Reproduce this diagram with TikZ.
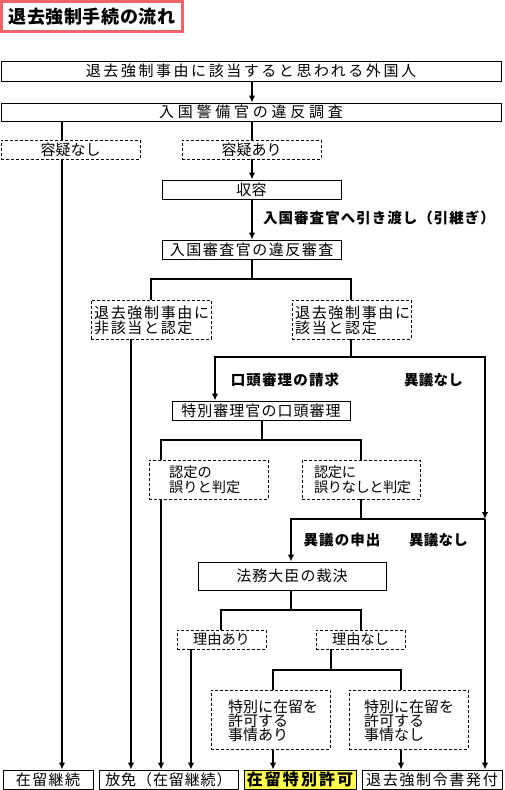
\documentclass[tikz,border=0pt]{standalone}
\usepackage{fontspec}
\setmainfont{Noto Sans CJK JP}
\usetikzlibrary{arrows.meta}
\definecolor{titlered}{RGB}{240,100,105}
\definecolor{hlyellow}{RGB}{255,255,80}
\begin{document}
\begin{tikzpicture}[x=1pt,y=-1pt,
  every node/.style={inner sep=0pt},
  ls/.style={font=\fontsize{15}{15}\selectfont\addfontfeature{LetterSpace=#1}},
  lss/.style={font=\fontsize{14.2}{15}\selectfont\addfontfeature{LetterSpace=#1}},
  lsb/.style={font=\fontsize{14.5}{15}\selectfont\bfseries\addfontfeature{LetterSpace=#1}},
  sbox/.style={draw, line width=0.9pt, rectangle},
  dbox/.style={draw, line width=0.9pt, dash pattern=on 3pt off 2pt, rectangle},
  conn/.style={line width=1.8pt},
  arr/.style={conn, -{Latex[length=7pt,width=6.5pt]}},
]
\useasboundingbox (0,0) rectangle (504,790);
\fill[white] (0,0) rectangle (504,790);

% title
\node[draw=titlered, line width=3pt, minimum width=181pt, minimum height=30pt,
      font=\fontsize{18}{20}\selectfont\bfseries\addfontfeature{LetterSpace=3}] (title) at (92,16.5) {退去強制手続の流れ};

% boxes
\node[sbox, minimum width=500pt, minimum height=20pt, ls=17] (b1) at (251,71) {退去強制事由に該当すると思われる外国人};
\node[sbox, minimum width=500pt, minimum height=18pt, ls=25] (b2) at (251,112) {入国警備官の違反調査};
\node[dbox, minimum width=139pt, minimum height=19pt, ls=0] (d1) at (70.5,149.5) {容疑なし};
\node[dbox, minimum width=139pt, minimum height=19pt, ls=0] (d2) at (251.5,149.5) {容疑あり};
\node[sbox, minimum width=179pt, minimum height=19pt, ls=3] (shuyo) at (251.5,189.5) {収容};
\node[sbox, minimum width=179pt, minimum height=19pt, ls=10] (shinsa) at (251.5,249.5) {入国審査官の違反審査};

\node[dbox, minimum width=120pt, minimum height=39pt] (d3) at (151,319.5) {};
\node[anchor=west, align=left, ls=11] (d3t) at (94,320.5) {退去強制事由に\\非該当と認定};
\node[dbox, minimum width=119pt, minimum height=39pt] (d4) at (351.5,319.5) {};
\node[anchor=west, align=left, ls=11] (d4t) at (295,320.5) {退去強制事由に\\該当と認定};

\node[sbox, minimum width=178pt, minimum height=19pt, ls=7] (kotou) at (261,410.5) {特別審理官の口頭審理};

\node[dbox, minimum width=119pt, minimum height=39pt] (d5) at (208.5,479.5) {};
\node[anchor=west, align=left, lss=0] (d5t) at (169,480) {認定の\\誤りと判定};
\node[dbox, minimum width=118pt, minimum height=39pt] (d6) at (361,479.5) {};
\node[anchor=west, align=left, lss=-3] (d6t) at (314,480) {認定に\\誤りなしと判定};

\node[sbox, minimum width=188pt, minimum height=28pt, ls=7] (houmu) at (292,576) {法務大臣の裁決};

\node[dbox, minimum width=89pt, minimum height=19pt, lss=0] (d7) at (221.5,639.5) {理由あり};
\node[dbox, minimum width=89pt, minimum height=19pt, lss=0] (d8) at (360.5,639.5) {理由なし};

\node[dbox, minimum width=119pt, minimum height=59pt] (d9) at (270.5,719.5) {};
\node[anchor=west, align=left, font=\fontsize{15}{14}\selectfont] (d9t) at (228,721) {特別に在留を\\許可する\\事情あり};
\node[dbox, minimum width=119pt, minimum height=59pt] (d10) at (408.5,719.5) {};
\node[anchor=west, align=left, font=\fontsize{15}{14}\selectfont] (d10t) at (364,721) {特別に在留を\\許可する\\事情なし};

% final boxes
\node[sbox, minimum width=90pt, minimum height=19pt, ls=9] (f1) at (48,779.5) {在留継続};
\node[sbox, minimum width=139pt, minimum height=19pt, ls=6] (f2) at (168.5,779.5) {放免（在留継続）};
\node[sbox, fill=hlyellow, minimum width=112pt, minimum height=19pt,
      font=\fontsize{16}{16}\selectfont\bfseries\addfontfeature{LetterSpace=13}] (f3) at (300,779.5) {在留特別許可};
\node[sbox, minimum width=140pt, minimum height=19pt, ls=11] (f4) at (432,779.5) {退去強制令書発付};

% labels
\node[anchor=west, lsb=7] (l1) at (263,218) {入国審査官へ引き渡し（引継ぎ）};
\node[lsb=8] (l2) at (285,380) {口頭審理の請求};
\node[lsb=2] (l3) at (433.5,380) {異議なし};
\node[lsb=7] (l4) at (342,540) {異議の申出};
\node[lsb=2] (l5) at (438.5,540) {異議なし};

% column coordinates
\coordinate (c62) at (62,0);
\coordinate (c131) at (131,0);
\coordinate (c161) at (161,0);
\coordinate (c191) at (191,0);
\coordinate (c215) at (215,0);
\coordinate (c221) at (221,0);
\coordinate (c252) at (252,0);
\coordinate (c273) at (273,0);
\coordinate (c291) at (291,0);
\coordinate (c351) at (351,0);
\coordinate (c361) at (361,0);
\coordinate (c401) at (401,0);
\coordinate (j1) at (252,279);
\coordinate (j2) at (351,357);
\coordinate (j3) at (262,440);
\coordinate (j4) at (485,519);
\coordinate (j5) at (361,519);
\coordinate (j6) at (291,610);
\coordinate (j7) at (331,670);

% connectors
\draw[arr] (b1.south -| c252) -- (b2.north -| c252);
\draw[conn] (b2.south -| c62) -- (d1.north -| c62);
\draw[arr] (d1.south -| c62) -- (f1.north -| c62);
\draw[conn] (b2.south -| c252) -- (d2.north -| c252);
\draw[arr] (d2.south -| c252) -- (shuyo.north -| c252);
\draw[arr] (shuyo.south -| c252) -- (shinsa.north -| c252);

\draw[conn] (shinsa.south -| c252) -- (j1);
\draw[conn] (j1) -| (d3.north);
\draw[conn] (j1) -| (d4.north -| c351);
\draw[arr] (d3.south -| c131) -- (f2.north -| c131);

\draw[conn] (d4.south -| j2) -- (j2);
\draw[arr] (j2) -| (kotou.north -| c215);
\draw[arr] (j2) -| (j4);

\draw[conn] (kotou.south -| j3) -- (j3);
\draw[conn] (j3) -| (d5.north -| c161);
\draw[conn] (j3) -| (d6.north -| c361);
\draw[arr] (d5.south -| c161) -- (f2.north -| c161);

\draw[conn] (d6.south -| j5) -- (j5);
\draw[conn] (j5) -- (j4);
\draw[arr] (j5) -| (houmu.north -| c291);
\draw[arr] (j4) -- (f4.north -| j4);

\draw[conn] (houmu.south -| j6) -- (j6);
\draw[conn] (j6) -| (d7.north -| c221);
\draw[conn] (j6) -| (d8.north -| c361);
\draw[arr] (d7.south -| c191) -- (f2.north -| c191);

\draw[conn] (d8.south -| j7) -- (j7);
\draw[conn] (j7) -| (d9.north -| c273);
\draw[conn] (j7) -| (d10.north -| c401);
\draw[arr] (d9.south -| c273) -- (f3.north -| c273);
\draw[arr] (d10.south -| c401) -- (f4.north -| c401);
\end{tikzpicture}
\end{document}
